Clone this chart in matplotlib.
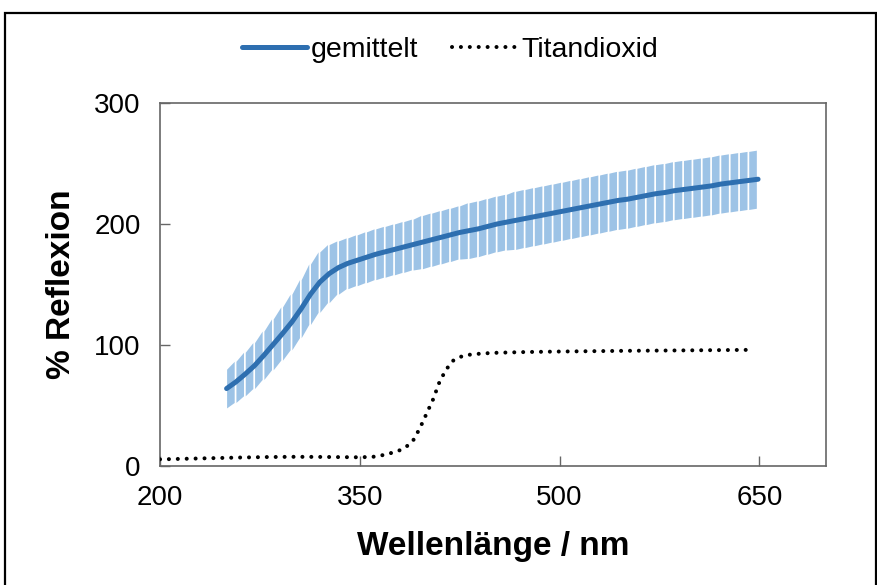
import matplotlib
matplotlib.use("Agg")
import matplotlib.pyplot as plt
from matplotlib.patches import Rectangle

plt.rcParams['font.family'] = ['Liberation Sans', 'DejaVu Sans']

# mean reflexion ("gemittelt") with standard deviation
wl_mean = [250, 257, 264, 271, 278, 285, 292, 299, 306, 313, 320, 327, 334, 341, 348,
           355, 362, 369, 376, 383, 390, 397, 404, 411, 418, 425, 432, 439, 446, 453,
           460, 467, 474, 481, 488, 495, 502, 509, 516, 523, 530, 537, 544, 551, 558,
           565, 572, 579, 586, 593, 600, 607, 614, 621, 628, 635, 642, 649]
mean_vals = [64, 69.5, 76, 83, 91.5, 100.5, 109.5, 119, 130, 142, 152, 159, 164, 167.5, 170,
             172.5, 175, 177, 179, 181, 183, 185, 187, 189, 191, 193, 194.5, 196, 198, 200,
             201.5, 203, 204.5, 206, 207.5, 209, 210.5, 212, 213.5, 215, 216.5, 218, 219.5, 220.5, 222,
             223.5, 225, 226, 227.5, 228.5, 229.5, 230.5, 231.5, 233, 234, 235, 236, 237]
err_vals = [16, 17, 18, 19, 20, 21, 22, 23, 24, 25, 25, 24, 22, 21, 21,
            21, 21, 21, 21, 21, 21, 22, 22, 22, 22, 22, 23, 23, 23, 23,
            23, 24, 24, 24, 24, 24, 24, 24, 24, 24, 24, 24, 24, 24, 24,
            24, 24, 24, 24, 24, 24, 24, 24, 24, 24, 24, 24, 24]

# titanium dioxide reference
wl_tio2 = [200, 220, 240, 260, 280, 300, 320, 340, 350, 360, 370, 380, 385, 390, 395,
           400, 405, 410, 415, 420, 425, 430, 440, 450, 475, 500, 550, 600, 645]
tio2_vals = [5.5, 6.0, 6.5, 7.0, 7.4, 7.6, 7.5, 7.3, 7.2, 7.6, 9.5, 13, 16, 21, 31,
             43, 55, 70, 80, 87, 90, 91.7, 92.8, 93.5, 94.2, 94.6, 95.2, 95.6, 96]

x_ticks = [200, 350, 500, 650]
y_ticks = [0, 100, 200, 300]

fig = plt.figure(figsize=(8.78, 5.85), dpi=100)
ax = fig.add_axes([160/878, 1-466/585, (826-160)/878, (466-103)/585])

# error bars drawn as narrow bands between successive sample points
gap = 1.3
for i in range(len(wl_mean) - 1):
    x0, x1 = wl_mean[i], wl_mean[i + 1]
    lo = [mean_vals[i] - err_vals[i], mean_vals[i + 1] - err_vals[i + 1]]
    hi = [mean_vals[i] + err_vals[i], mean_vals[i + 1] + err_vals[i + 1]]
    ax.fill_between([x0, x1 - gap], lo, hi, color='#9DC3E6', lw=0, zorder=2)

line1, = ax.plot(wl_mean, mean_vals, color='#2E6FB0', lw=3.6, zorder=3,
                 solid_capstyle='round', label='gemittelt')
line2, = ax.plot(wl_tio2, tio2_vals, color='black', lw=2.9, linestyle=(0, (0.01, 2.2)),
                 dash_capstyle='round', zorder=3, label='Titandioxid')

ax.set_xlim(200, 700)
ax.set_ylim(0, 300)
ax.set_xticks(x_ticks)
ax.set_yticks(y_ticks)
ax.tick_params(direction='in', length=7, width=1, color='#666666', labelsize=20,
               labelcolor='black')
ax.tick_params(axis='y', pad=14)
ax.tick_params(axis='x', pad=14)
for s in ax.spines.values():
    s.set_color('#666666')
    s.set_linewidth(1.2)

ax.set_xlabel('Wellenlänge / nm', fontsize=24, fontweight='bold', labelpad=14)
ax.set_ylabel('% Reflexion', fontsize=24, fontweight='bold', labelpad=12)

fig.legend(handles=[line1, line2], loc='center', bbox_to_anchor=(450/878, 1-50/585),
           ncol=2, frameon=False, fontsize=20.5, handlelength=2.3, handletextpad=0.12,
           columnspacing=1.2)

fig.add_artist(Rectangle((5/878, -0.01), 871/878, 1-13/585 + 0.01, transform=fig.transFigure,
                         fill=False, edgecolor='black', lw=1.6))

fig.savefig('out.png', dpi=100)
